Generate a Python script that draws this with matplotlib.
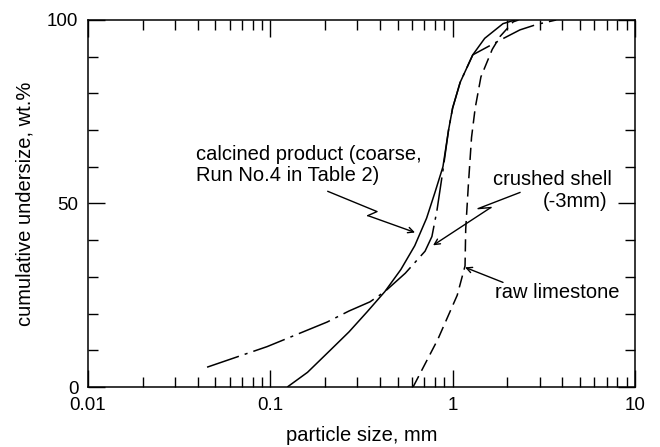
import numpy as np
import matplotlib.pyplot as plt
from matplotlib.ticker import LogLocator, MultipleLocator, FixedLocator, FixedFormatter, NullFormatter

plt.rcParams['font.family'] = ['Liberation Sans', 'DejaVu Sans']

# calcined product (coarse, Run No.4 in Table 2) - solid
calc_x = [0.124, 0.16, 0.213, 0.27, 0.34, 0.425, 0.52, 0.62, 0.72, 0.80, 0.885, 0.95, 1.0, 1.1, 1.29, 1.5, 1.89, 2.2]
calc_y = [0, 4, 10, 15, 20.5, 26, 32, 38.5, 46, 53, 60, 70, 76, 83, 90.5, 95, 99, 100]

# crushed shell (-3mm) - dash-dot
shell_x = [0.045, 0.096, 0.205, 0.27, 0.352, 0.425, 0.55, 0.706, 0.77, 0.82, 0.885, 0.95, 1.0, 1.1, 1.29, 1.82, 2.34, 2.9, 3.7]
shell_y = [5.4, 11, 17.7, 20.7, 23.2, 26, 31, 37, 41, 48, 59, 70, 76, 83, 90.5, 94.5, 97.3, 98.8, 100]

# raw limestone - dashed
raw_x = [0.607, 0.83, 1.06, 1.17, 1.18, 1.22, 1.27, 1.33, 1.43, 1.65, 1.82, 2.15, 2.3]
raw_y = [0, 13, 25, 33, 43, 55, 68, 76, 84.5, 92, 95.5, 99.5, 100]

x_ticks = [0.01, 0.1, 1, 10]
x_labels = ['0.01', '0.1', '1', '10']
y_ticks = [0, 50, 100]

fig = plt.figure(figsize=(6.6, 4.47), dpi=100)
ax = fig.add_axes([0.1333, 0.1342, 0.8287, 0.8211])

ax.plot(calc_x, calc_y, color='black', lw=1.1, solid_capstyle='butt')
ax.plot(shell_x, shell_y, color='black', lw=1.1, dashes=(22, 4, 2, 4))
ax.plot(raw_x, raw_y, color='black', lw=1.1, dashes=(8, 4))

ax.set_xscale('log')
ax.set_xlim(0.01, 10)
ax.set_ylim(0, 100)

ax.xaxis.set_major_locator(FixedLocator(x_ticks))
ax.xaxis.set_major_formatter(FixedFormatter(x_labels))
ax.xaxis.set_minor_locator(LogLocator(base=10, subs=np.arange(2, 10)))
ax.xaxis.set_minor_formatter(NullFormatter())
ax.yaxis.set_major_locator(FixedLocator(y_ticks))
ax.yaxis.set_minor_locator(MultipleLocator(10))

ax.tick_params(which='both', direction='in', top=True, right=True, labelsize=13.5, width=1)
ax.tick_params(which='major', length=12, pad=7)
ax.tick_params(which='minor', length=7)
for s in ax.spines.values():
    s.set_linewidth(1.1)

fs = 14.5
ax.set_xlabel('particle size, mm', fontsize=fs, labelpad=9)
ax.set_ylabel('cumulative undersize, wt.%', fontsize=fs, labelpad=9)

# labels and arrows
ax.text(0.0391, 60.5, 'calcined product (coarse,\nRun No.4 in Table 2)', fontsize=fs,
        ha='left', va='center', linespacing=1.15)
ax.plot([0.207, 0.385, 0.343], [53.3, 47.8, 46.7], color='black', lw=1)
ax.annotate('', xy=(0.622, 42.1), xytext=(0.343, 46.7),
            arrowprops=dict(arrowstyle='->', color='black', lw=1, shrinkA=0, shrinkB=0))

ax.text(1.665, 56.5, 'crushed shell', fontsize=fs, ha='left', va='center')
ax.text(3.13, 50.6, '(-3mm)', fontsize=fs, ha='left', va='center')
ax.plot([2.34, 1.379, 1.62], [53, 48.6, 48.9], color='black', lw=1)
ax.annotate('', xy=(0.781, 38.6), xytext=(1.62, 48.9),
            arrowprops=dict(arrowstyle='->', color='black', lw=1, shrinkA=0, shrinkB=0))

ax.text(1.708, 25.8, 'raw limestone', fontsize=fs, ha='left', va='center')
ax.annotate('', xy=(1.17, 32.6), xytext=(1.89, 28.5),
            arrowprops=dict(arrowstyle='->', color='black', lw=1, shrinkA=0, shrinkB=0))

fig.savefig('out.png', dpi=100)
